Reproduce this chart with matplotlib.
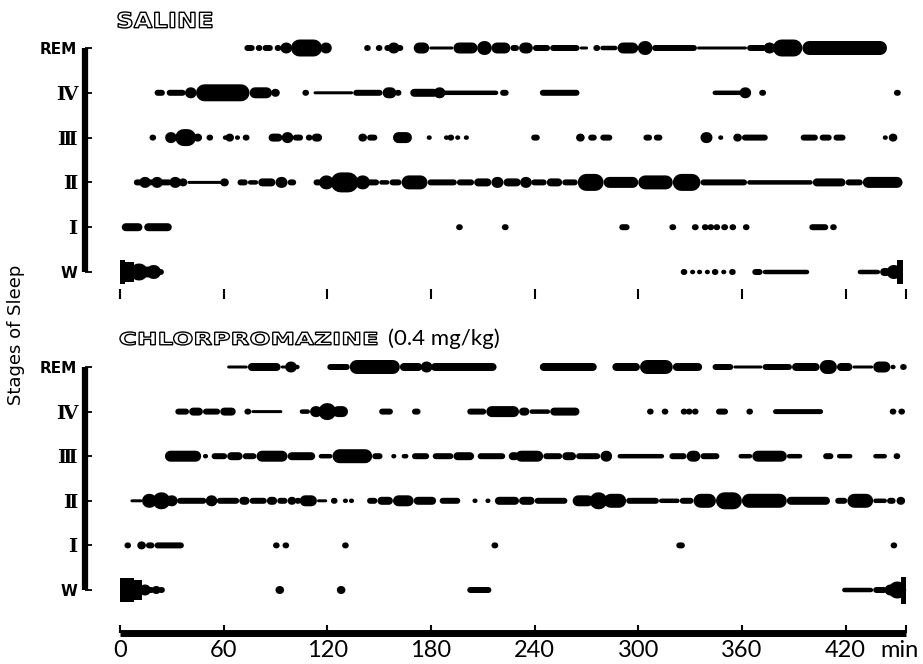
import matplotlib
matplotlib.use("Agg")
import matplotlib.pyplot as plt
from matplotlib.textpath import TextPath
from matplotlib.patches import PathPatch
from matplotlib.collections import LineCollection
from matplotlib.font_manager import FontProperties
from matplotlib.transforms import Affine2D

# ---------------- data (minutes start, minutes end, intensity level) ----------------
stage_labels = ["REM", "Ⅳ", "Ⅲ", "Ⅱ", "Ⅰ", "W"]
stage_y = [5, 4, 3, 2, 1, 0]
x_ticks = [0, 60, 120, 180, 240, 300, 360, 420, 455]
x_tick_labels = ["0", "60", "120", "180", "240", "300", "360", "420", ""]

saline_REM = [(72, 78, 2), (79, 82, 2), (82.5, 88.5, 2), (89.5, 93.5, 2), (93.5, 99, 3), (99, 117, 4),
              (117, 121.5, 3), (142.5, 144, 2), (149, 151, 2), (153, 157, 2), (157, 160, 3), (160, 164, 2),
              (170, 179, 3), (179, 193, 1), (193, 207, 3), (207, 215, 3.5), (215, 226, 3), (226, 231, 2),
              (231, 239, 3), (239, 249, 2), (249, 266, 2), (266, 271, 1), (274, 278, 2), (278, 288, 1.5),
              (288, 300, 3), (300, 308, 3.5), (308, 334, 2), (334, 363, 1), (363, 374, 2), (374, 378, 3),
              (378, 395, 4), (395, 444, 3.5)]
saline_IV = [(20, 26, 2), (27, 38, 2), (38, 44, 3), (44, 75, 4), (75, 88, 3), (89, 91, 2.5),
             (106, 109, 2), (112, 135, 1), (135, 152, 2), (152, 160, 3), (160, 162, 2),
             (168, 184, 2.5), (184, 186, 3), (186, 219, 1.5), (220, 225, 2), (243, 266, 2),
             (343, 360, 1.5), (360, 364, 3), (370, 374, 2), (448, 452, 2)]
saline_III = [(18, 20, 2), (27, 32, 3), (32, 44, 4), (44, 46, 2.5), (51, 53, 2), (60, 62, 1.5), (62, 65, 2.5),
              (67, 69, 1.5), (71, 75, 2), (86, 94, 2.5), (94, 100, 3), (100, 106, 2), (108, 111, 2),
              (111, 117, 2.5), (138, 143, 2.5), (143, 149, 2), (158, 169, 3), (178, 180, 1.5),
              (188, 190, 1.5), (190, 193, 2), (195, 196, 1.5), (200, 201, 1.5), (238, 243, 2),
              (265, 268, 2.5), (271, 276, 2), (278, 285, 2), (303, 308, 2), (309, 314, 2),
              (336, 343, 3), (347, 348.5, 1.5), (355, 360, 2.5), (360, 375, 2), (394, 404, 2),
              (405, 412, 2), (413, 420, 2), (442, 444, 1.5), (446, 449, 2.5)]
saline_II = [(8, 13, 2), (13, 16, 3), (16, 20, 2), (20, 23, 3), (23, 30, 2), (30, 34, 3), (34, 39, 2.5),
             (39, 59, 1), (59, 62, 2.5), (68, 74, 2), (74, 80, 1.5), (80, 90, 2.5), (90, 97, 3), (97, 102, 2),
             (112, 117, 2), (117, 122, 3.5), (122, 138, 4.5), (138, 143, 3.5), (143, 150, 2), (150, 156, 1.5),
             (156, 163, 2), (163, 178, 3.5), (178, 195, 2), (195, 205, 2), (205, 215, 2.5), (215, 222, 3),
             (222, 232, 2.5), (232, 238, 3), (238, 247, 2), (247, 256, 2.5), (256, 265, 2),
             (265, 280, 4), (280, 300, 3), (300, 320, 3.5), (320, 336, 4), (336, 363, 2),
             (363, 401, 1.5), (401, 420, 2.5), (420, 430, 2), (430, 453, 3)]
saline_I = [(1, 13, 2.5), (14, 30, 2.5), (195, 198, 2), (221, 225, 2), (289, 295, 2), (318, 322, 2),
            (331, 335, 2), (338, 339.5, 2), (341, 343, 2), (344.5, 346.5, 2), (348, 352, 2),
            (353.5, 356, 2), (361, 364, 2), (399, 410, 2), (412, 414, 2)]
saline_W = [(0, 3, 5), (3, 8, 4.5), (8, 14, 4), (14, 18, 3), (18, 21, 3.5), (22, 25, 2),
            (325, 328, 2), (331, 332, 1.5), (335, 336, 1.5), (339, 341, 1.5), (343, 346, 2),
            (348, 351, 1.5), (353, 356, 2), (366, 372, 2), (372, 399, 1.5),
            (427, 440, 1.5), (440, 446, 2.5), (446, 450, 3.5), (450, 453, 5)]

chlor_REM = [(62, 74, 1), (74, 93, 2.5), (93, 97, 1), (97, 101, 3), (101, 104, 1.5),
             (120, 133, 2), (133, 162, 3.5), (162, 175, 2.5), (175, 180, 3), (180, 218, 2.5),
             (243, 276, 2.5), (285, 301, 2.5), (301, 320, 3.5), (320, 337, 2.5),
             (343, 355, 2), (355, 372, 1), (372, 389, 2), (389, 405, 2.5), (405, 415, 3.5),
             (415, 424, 2.5), (424, 436, 1), (436, 446, 3), (447, 448, 1.5), (453, 454, 2)]
chlor_IV = [(32, 40, 2), (40, 48, 2.5), (48, 58, 2), (58, 67, 2.5), (72, 76, 2), (76, 94, 1),
            (104, 110, 1.5), (110, 117, 3), (117, 123, 4), (123, 132, 3), (150, 158, 2), (169, 174, 2),
            (201, 212, 2), (212, 231, 3), (231, 237, 2.5), (237, 249, 1.5), (249, 266, 2.5),
            (306, 308, 2), (314, 317, 2), (326, 327, 2), (329, 330, 2), (332, 334, 2), (345, 352, 2),
            (363, 366, 2), (378, 407, 1.8), (446, 449, 2), (451, 454, 2)]
chlor_III = [(26, 47, 3), (49, 50, 1.5), (53, 62, 2), (62, 71, 2.5), (71, 79, 2), (79, 97, 3),
             (97, 113, 2.5), (115, 123, 1.5), (123, 146, 3.5), (146, 152, 2), (157, 160, 1.5),
             (163, 167, 1.5), (169, 179, 2), (181, 193, 2), (193, 205, 2.5), (207, 223, 2),
             (225, 231, 2.5), (229, 245, 3), (245, 256, 2), (256, 264, 2.5), (264, 278, 2),
             (279, 284, 3), (288, 315, 1.5), (318, 328, 2), (328, 336, 3), (336, 347, 2),
             (358, 366, 1.5), (366, 386, 3), (386, 395, 1.5), (407, 413, 2), (415, 424, 1.5),
             (436, 444, 1.5), (449, 450.5, 2)]
chlor_II = [(6, 13, 1), (13, 21, 3.5), (21, 27, 4), (27, 33, 3), (33, 50, 2), (50, 56, 3),
            (56, 69, 2), (69, 75, 2.5), (75, 85, 2), (85, 91, 2.5), (91, 97, 2), (97, 102, 2.5),
            (102, 104, 2), (104, 114, 3), (114, 120, 1), (123, 125, 2), (130, 131, 1.5),
            (133, 135, 1.5), (143, 149, 2), (149, 158, 2.5), (158, 170, 3), (170, 183, 2.5),
            (185, 197, 2), (204, 207, 1.5), (212, 214, 1.5), (217, 231, 2.5), (231, 240, 2.5),
            (240, 259, 2), (262, 274, 3), (274, 280, 4), (280, 293, 3.5), (293, 312, 2),
            (312, 324, 1.5), (324, 332, 2), (332, 345, 3.5), (345, 360, 4), (360, 386, 3.5),
            (386, 411, 2.5), (414, 421, 2), (421, 436, 3.5), (436, 444, 1.5), (444, 449, 2),
            (450, 454, 2.5)]
chlor_I = [(3, 6, 2), (10, 15, 2.5), (15, 20, 2), (20, 37, 2), (90, 91, 2), (95, 97, 2), (130, 131, 2),
           (215, 219, 2), (322, 327, 2), (447, 449, 2)]
chlor_W = [(0, 8, 5), (8, 13, 4.5), (13, 16, 3), (16, 20, 2), (20, 22, 2.5), (22, 26, 2),
           (91, 94, 2.5), (127, 129, 2.5), (201, 215, 2), (418, 436, 1.5), (436, 444, 2),
           (444, 448, 3), (448, 452, 4), (452, 455, 5.5)]

saline_rows = [saline_REM, saline_IV, saline_III, saline_II, saline_I, saline_W]
chlor_rows = [chlor_REM, chlor_IV, chlor_III, chlor_II, chlor_I, chlor_W]

# ---------------- layout ----------------
W, H = 923, 664
PX_PER_MIN = 1.7275
X0_PX = 120.0
XMIN, XMAX = -25, 460
LEVEL_PX = {1: 3, 1.5: 4.5, 1.8: 5, 2: 6, 2.5: 8, 3: 11, 3.5: 14, 4: 17, 4.5: 20, 5: 24, 5.5: 27}

fig = plt.figure(figsize=(W / 100, H / 100), dpi=100)


def add_px_axes(top, bottom):
    left = X0_PX + XMIN * PX_PER_MIN
    right = X0_PX + XMAX * PX_PER_MIN
    return fig.add_axes([left / W, 1 - bottom / H, (right - left) / W, (bottom - top) / H])


def draw_rows(ax, rows, unit_px):
    for rowdata, y in zip(rows, stage_y):
        for s, e, lev in rowdata:
            wpx = LEVEL_PX[lev]
            if lev >= 4.5 and (s < 30 or e > 440):
                # wake bursts at the ends are drawn as flat-ended blocks
                h = wpx / unit_px
                ax.broken_barh([(s, e - s)], (y - h / 2, h), facecolors="black", edgecolor="none")
                continue
            r = (wpx / 2) / PX_PER_MIN
            if e - s > 2 * r + 0.4:
                a, b = s + r, e - r
            else:
                m = (s + e) / 2
                a, b = m - 0.2, m + 0.2
            lc = LineCollection([[(a, y), (b, y)]], linewidths=wpx * 0.72,
                                colors="black", capstyle="round")
            lc.set_snap(False)
            ax.add_collection(lc)


def style_y(ax):
    ax.set_xlim(XMIN, XMAX)
    for sp in ["top", "right"]:
        ax.spines[sp].set_visible(False)
    ax.spines["left"].set_position(("data", -20))
    ax.spines["left"].set_bounds(0, 5)
    ax.spines["left"].set_linewidth(4.5)
    ax.spines["left"].set_capstyle("butt")
    ax.set_yticks(stage_y)
    ax.set_yticklabels(stage_labels)
    ax.tick_params(axis="y", direction="in", length=5, width=1.3, pad=6)
    for lab in ax.get_yticklabels():
        if lab.get_text() in ("REM", "W"):
            lab.set_fontfamily("DejaVu Sans")
            lab.set_fontweight("bold")
            lab.set_fontsize(11)
        else:
            lab.set_fontfamily(["DejaVu Serif", "DejaVu Sans"])
            lab.set_fontweight("bold")
            lab.set_fontsize(14)


# top panel: W at 272 px, REM at 48 px
unit_top = (272 - 48) / 5
ax1 = add_px_axes(48 - 0.6 * unit_top, 272 + 0.6 * unit_top)
ax1.set_ylim(-0.6, 5.6)
draw_rows(ax1, saline_rows, unit_top)
style_y(ax1)
ax1.spines["bottom"].set_visible(False)
ax1.set_xticks(x_ticks)
ax1.set_xticklabels([])
ax1.tick_params(axis="x", direction="in", length=7, width=1.5)

# bottom panel: W at 590, REM at 367, axis bar at 633
unit_bot = (590 - 367) / 5
ybot = -(633 - 590) / unit_bot
ax2 = add_px_axes(367 - 0.5 * unit_bot, 633)
ax2.set_ylim(ybot, 5.5)
draw_rows(ax2, chlor_rows, unit_bot)
style_y(ax2)
ax2.spines["bottom"].set_bounds(0, 455)
ax2.spines["bottom"].set_linewidth(5)
ax2.spines["bottom"].set_capstyle("butt")
ax2.set_xticks(x_ticks)
ax2.set_xticklabels(x_tick_labels, fontfamily="Lato", fontsize=17)
ax2.tick_params(axis="x", direction="in", length=6, width=1.5, pad=5)
ax2.annotate("min", xy=(451, 0), xycoords=("data", "axes fraction"), xytext=(0, -5),
             textcoords="offset points", ha="center", va="top", fontfamily="Lato", fontsize=17)

# axis title
fig.text(16 / W, 1 - 335 / H, "Stages of Sleep", rotation=90, ha="center", va="center",
         fontfamily="DejaVu Sans", fontsize=13)


def outlined(text, x0, x1, ytop, ybottom, lw=1.0):
    fp = FontProperties(family="DejaVu Sans", weight="bold")
    tp = TextPath((0, 0), text, size=100, prop=fp)
    bb = tp.get_extents()
    sx = (x1 - x0) / bb.width
    sy = (ybottom - ytop) / bb.height
    t = (Affine2D().translate(-bb.x0, -bb.y0).scale(sx, sy)
         .translate(x0, H - ybottom).scale(1 / W, 1 / H) + fig.transFigure)
    fig.add_artist(PathPatch(tp, transform=t, facecolor="white", edgecolor="black", lw=lw))


outlined("SALINE", 118, 212, 12, 28)
outlined("CHLORPROMAZINE", 120, 377, 332, 345)
fig.text(388 / W, 1 - 339 / H, "(0.4 mg/kg)", ha="left", va="center", fontfamily="Lato", fontsize=16)

fig.savefig("out.png", dpi=100, facecolor="white")
